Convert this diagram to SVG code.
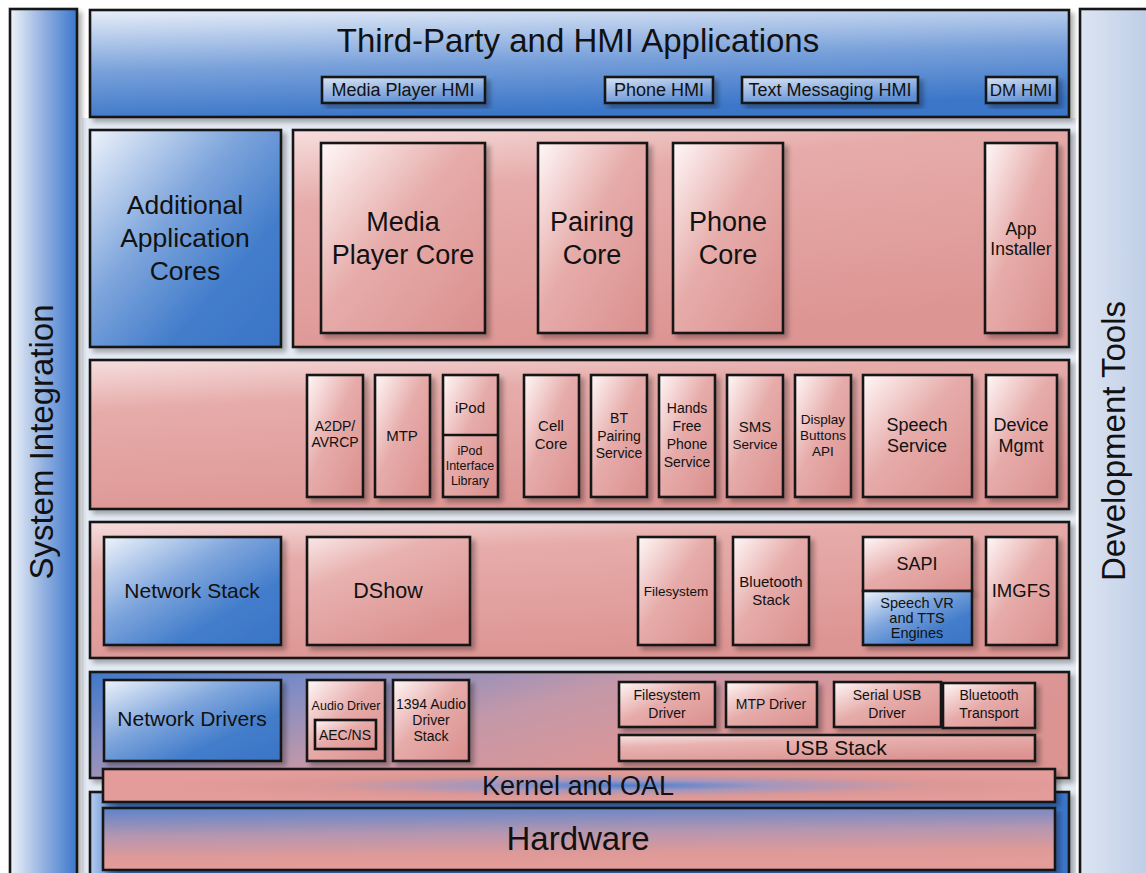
<svg xmlns="http://www.w3.org/2000/svg" width="1146" height="873" viewBox="0 0 1146 873">
  <defs>
    <filter id="shadow" x="-10%" y="-10%" width="130%" height="130%">
      <feGaussianBlur in="SourceAlpha" stdDeviation="2.5"/>
      <feOffset dx="4" dy="4" result="b"/>
      <feComponentTransfer><feFuncA type="linear" slope="0.3"/></feComponentTransfer>
      <feMerge><feMergeNode/><feMergeNode in="SourceGraphic"/></feMerge>
    </filter>
    <linearGradient id="pinkBox" x1="0" y1="0" x2="1" y2="1">
      <stop offset="0" stop-color="#fff8f8"/>
      <stop offset="0.45" stop-color="#e6acaa"/>
      <stop offset="1" stop-color="#da8f8d"/>
    </linearGradient>
    <linearGradient id="pinkWide" x1="0" y1="0" x2="0.6" y2="1">
      <stop offset="0" stop-color="#f9e6e6"/>
      <stop offset="0.35" stop-color="#e8b2b0"/>
      <stop offset="1" stop-color="#dc9391"/>
    </linearGradient>
    <linearGradient id="pinkPanel" x1="0" y1="0" x2="0.4" y2="1">
      <stop offset="0" stop-color="#f6dede"/>
      <stop offset="0.3" stop-color="#e6acaa"/>
      <stop offset="1" stop-color="#dd9593"/>
    </linearGradient>
    <linearGradient id="blueBox" x1="0" y1="0" x2="1" y2="1">
      <stop offset="0" stop-color="#eef3fb"/>
      <stop offset="0.4" stop-color="#7ea5dc"/>
      <stop offset="0.7" stop-color="#437dcb"/>
      <stop offset="1" stop-color="#3a74c6"/>
    </linearGradient>
    <linearGradient id="topBar" x1="0" y1="0" x2="0.25" y2="1">
      <stop offset="0" stop-color="#e9eff9"/>
      <stop offset="0.55" stop-color="#78a0da"/>
      <stop offset="1" stop-color="#3b76c8"/>
    </linearGradient>
    <linearGradient id="hmiBox" x1="0" y1="0" x2="0.5" y2="1">
      <stop offset="0" stop-color="#d9e4f5"/>
      <stop offset="1" stop-color="#5d8dd3"/>
    </linearGradient>
    <linearGradient id="sysBar" x1="0" y1="0" x2="1" y2="0">
      <stop offset="0" stop-color="#eef2f9"/>
      <stop offset="0.5" stop-color="#93b1e0"/>
      <stop offset="1" stop-color="#3b77cc"/>
    </linearGradient>
    <linearGradient id="devBar" x1="0" y1="0" x2="1" y2="0">
      <stop offset="0" stop-color="#dde5f2"/>
      <stop offset="1" stop-color="#bccce6"/>
    </linearGradient>
    <linearGradient id="driverPanel" x1="0" y1="0" x2="1" y2="0.4">
      <stop offset="0" stop-color="#3f78c8"/>
      <stop offset="0.22" stop-color="#7d8cc6"/>
      <stop offset="0.5" stop-color="#c498a8"/>
      <stop offset="0.75" stop-color="#da9698"/>
      <stop offset="1" stop-color="#dc9492"/>
    </linearGradient>
    <radialGradient id="kernelFill" cx="0.55" cy="0.5" r="0.5">
      <stop offset="0" stop-color="#4a7fd0"/>
      <stop offset="0.3" stop-color="#a496bd"/>
      <stop offset="0.65" stop-color="#dc9896"/>
      <stop offset="1" stop-color="#e49c9a"/>
    </radialGradient>
    <linearGradient id="hwOuter" x1="0" y1="0" x2="1" y2="0">
      <stop offset="0" stop-color="#b9cdee"/>
      <stop offset="0.03" stop-color="#3d78cb"/>
      <stop offset="1" stop-color="#3a76ca"/>
    </linearGradient>
    <linearGradient id="hwInner" x1="0" y1="0" x2="0.15" y2="1">
      <stop offset="0" stop-color="#5a84cc"/>
      <stop offset="0.45" stop-color="#b596b0"/>
      <stop offset="0.8" stop-color="#df9a98"/>
      <stop offset="1" stop-color="#e39c9a"/>
    </linearGradient>
    <style>
      .box { stroke: #141414; stroke-width: 2.6; filter: url(#shadow); }
      .pink { fill: url(#pinkBox); }
      .pinkw { fill: url(#pinkWide); }
      .panel { fill: url(#pinkPanel); }
      .blue { fill: url(#blueBox); }
      .hmi { fill: url(#hmiBox); }
      text { font-family: "Liberation Sans", Arial, sans-serif; fill: #111; text-anchor: middle; }
    </style>
  </defs>

  <rect width="1146" height="873" fill="#ffffff"/>
  <rect x="82" y="118" width="994" height="755" fill="#e5ebf4"/>

  <!-- side columns -->
  <g id="system-integration">
    <rect class="box" x="10" y="9" width="67" height="870" fill="url(#sysBar)"/>
    <text transform="translate(53,442) rotate(-90)" font-size="33">System Integration</text>
  </g>
  <g id="development-tools">
    <rect class="box" x="1080" y="9" width="72" height="870" fill="url(#devBar)"/>
    <text transform="translate(1125,441) rotate(-90)" font-size="33">Development Tools</text>
  </g>

  <!-- applications layer -->
  <g id="apps">
    <rect class="box" x="90" y="10" width="979" height="107" fill="url(#topBar)"/>
    <text x="578" y="52" font-size="33">Third-Party and HMI Applications</text>
  </g>
  <g id="media-player-hmi">
    <rect class="box hmi" x="322" y="77" width="163" height="26"/>
    <text x="403" y="96" font-size="18">Media Player HMI</text>
  </g>
  <g id="phone-hmi">
    <rect class="box hmi" x="605" y="77" width="108" height="26"/>
    <text x="659" y="96" font-size="18">Phone HMI</text>
  </g>
  <g id="text-messaging-hmi">
    <rect class="box hmi" x="742" y="77" width="176" height="26"/>
    <text x="830" y="96" font-size="18">Text Messaging HMI</text>
  </g>
  <g id="dm-hmi">
    <rect class="box hmi" x="986" y="77" width="71" height="26"/>
    <text x="1021" y="96" font-size="17">DM HMI</text>
  </g>

  <!-- application cores layer -->
  <g id="additional-cores">
    <rect class="box blue" x="90" y="130" width="191" height="217"/>
    <text x="185" y="214" font-size="26.5">Additional</text>
    <text x="185" y="247" font-size="26.5">Application</text>
    <text x="185" y="280" font-size="26.5">Cores</text>
  </g>
  <g id="cores-panel">
    <rect class="box panel" x="293" y="130" width="776" height="217"/>
  </g>
  <g id="media-player-core">
    <rect class="box pink" x="321" y="143" width="164" height="190"/>
    <text x="403" y="231" font-size="27">Media</text>
    <text x="403" y="264" font-size="27">Player Core</text>
  </g>
  <g id="pairing-core">
    <rect class="box pink" x="538" y="143" width="109" height="190"/>
    <text x="592" y="231" font-size="27">Pairing</text>
    <text x="592" y="264" font-size="27">Core</text>
  </g>
  <g id="phone-core">
    <rect class="box pink" x="673" y="143" width="110" height="190"/>
    <text x="728" y="231" font-size="27">Phone</text>
    <text x="728" y="264" font-size="27">Core</text>
  </g>
  <g id="app-installer">
    <rect class="box pink" x="985" y="143" width="72" height="190"/>
    <text x="1021" y="235" font-size="17.5">App</text>
    <text x="1021" y="255" font-size="17.5">Installer</text>
  </g>

  <!-- services layer -->
  <g id="services-panel">
    <rect class="box panel" x="90" y="360" width="979" height="149"/>
  </g>
  <g id="a2dp">
    <rect class="box pink" x="307" y="375" width="56" height="122"/>
    <text x="335" y="431" font-size="14">A2DP/</text>
    <text x="335" y="447" font-size="14">AVRCP</text>
  </g>
  <g id="mtp">
    <rect class="box pink" x="375" y="375" width="55" height="122"/>
    <text x="402" y="441" font-size="15">MTP</text>
  </g>
  <g id="ipod">
    <rect class="box pink" x="443" y="375" width="55" height="122"/>
    <line x1="443" y1="435" x2="498" y2="435" stroke="#141414" stroke-width="2.6"/>
    <text x="470" y="413" font-size="15">iPod</text>
    <text x="470" y="455" font-size="12.5">iPod</text>
    <text x="470" y="470" font-size="12.5">Interface</text>
    <text x="470" y="485" font-size="12.5">Library</text>
  </g>
  <g id="cell-core">
    <rect class="box pink" x="524" y="375" width="55" height="122"/>
    <text x="551" y="431" font-size="15">Cell</text>
    <text x="551" y="449" font-size="15">Core</text>
  </g>
  <g id="bt-pairing">
    <rect class="box pink" x="591" y="375" width="56" height="122"/>
    <text x="619" y="423" font-size="14">BT</text>
    <text x="619" y="441" font-size="14">Pairing</text>
    <text x="619" y="458" font-size="14">Service</text>
  </g>
  <g id="hands-free">
    <rect class="box pink" x="659" y="375" width="56" height="122"/>
    <text x="687" y="413" font-size="14">Hands</text>
    <text x="687" y="431" font-size="14">Free</text>
    <text x="687" y="449" font-size="14">Phone</text>
    <text x="687" y="467" font-size="14">Service</text>
  </g>
  <g id="sms-service">
    <rect class="box pink" x="727" y="375" width="56" height="122"/>
    <text x="755" y="432" font-size="15">SMS</text>
    <text x="755" y="449" font-size="13.5">Service</text>
  </g>
  <g id="display-buttons">
    <rect class="box pink" x="795" y="375" width="56" height="122"/>
    <text x="823" y="424" font-size="13.5">Display</text>
    <text x="823" y="440" font-size="13.5">Buttons</text>
    <text x="823" y="456" font-size="13.5">API</text>
  </g>
  <g id="speech-service">
    <rect class="box pink" x="863" y="375" width="109" height="122"/>
    <text x="917" y="431" font-size="18">Speech</text>
    <text x="917" y="452" font-size="18">Service</text>
  </g>
  <g id="device-mgmt">
    <rect class="box pink" x="986" y="375" width="71" height="122"/>
    <text x="1021" y="431" font-size="18">Device</text>
    <text x="1021" y="452" font-size="18">Mgmt</text>
  </g>

  <!-- middleware layer -->
  <g id="middleware-panel">
    <rect class="box panel" x="90" y="522" width="979" height="136"/>
  </g>
  <g id="network-stack">
    <rect class="box blue" x="104" y="537" width="177" height="108"/>
    <text x="192" y="598" font-size="21">Network Stack</text>
  </g>
  <g id="dshow">
    <rect class="box pinkw" x="307" y="537" width="163" height="108"/>
    <text x="388" y="598" font-size="21.5">DShow</text>
  </g>
  <g id="filesystem">
    <rect class="box pink" x="638" y="537" width="77" height="108"/>
    <text x="676" y="596" font-size="13.5">Filesystem</text>
  </g>
  <g id="bluetooth-stack">
    <rect class="box pink" x="733" y="537" width="76" height="108"/>
    <text x="771" y="587" font-size="15">Bluetooth</text>
    <text x="771" y="605" font-size="15">Stack</text>
  </g>
  <g id="sapi">
    <rect class="box pink" x="863" y="537" width="109" height="54"/>
    <text x="917" y="570" font-size="18">SAPI</text>
  </g>
  <g id="speech-engines">
    <rect class="box blue" x="863" y="591" width="109" height="54"/>
    <text x="917" y="608" font-size="14.5">Speech VR</text>
    <text x="917" y="623" font-size="14.5">and TTS</text>
    <text x="917" y="638" font-size="14.5">Engines</text>
  </g>
  <g id="imgfs">
    <rect class="box pink" x="986" y="537" width="71" height="108"/>
    <text x="1021" y="597" font-size="18.5">IMGFS</text>
  </g>

  <!-- drivers layer -->
  <g id="drivers-panel">
    <rect class="box" x="90" y="672" width="979" height="106" fill="url(#driverPanel)"/>
  </g>
  <g id="network-drivers">
    <rect class="box blue" x="104" y="680" width="177" height="81"/>
    <text x="192" y="726" font-size="21">Network Drivers</text>
  </g>
  <g id="audio-driver">
    <rect class="box pink" x="307" y="680" width="78" height="81"/>
    <text x="346" y="710" font-size="12.5">Audio Driver</text>
    <rect x="315" y="720" width="61" height="29" fill="url(#pinkBox)" stroke="#141414" stroke-width="2.6"/>
    <text x="345" y="740" font-size="14">AEC/NS</text>
  </g>
  <g id="audio-1394">
    <rect class="box pink" x="393" y="680" width="76" height="81"/>
    <text x="431" y="709" font-size="14">1394 Audio</text>
    <text x="431" y="725" font-size="14">Driver</text>
    <text x="431" y="741" font-size="14">Stack</text>
  </g>
  <g id="filesystem-driver">
    <rect class="box pink" x="619" y="682" width="96" height="45"/>
    <text x="667" y="700" font-size="14">Filesystem</text>
    <text x="667" y="718" font-size="14">Driver</text>
  </g>
  <g id="mtp-driver">
    <rect class="box pink" x="726" y="682" width="91" height="45"/>
    <text x="771" y="709" font-size="14">MTP Driver</text>
  </g>
  <g id="serial-usb-driver">
    <rect class="box pink" x="834" y="682" width="107" height="45"/>
    <text x="887" y="700" font-size="14">Serial USB</text>
    <text x="887" y="718" font-size="14">Driver</text>
  </g>
  <g id="bluetooth-transport">
    <rect class="box pink" x="943" y="683" width="92" height="45"/>
    <text x="989" y="700" font-size="14">Bluetooth</text>
    <text x="989" y="718" font-size="14">Transport</text>
  </g>
  <g id="usb-stack">
    <rect class="box pinkw" x="619" y="735" width="416" height="26"/>
    <text x="836" y="755" font-size="21">USB Stack</text>
  </g>

  <!-- hardware and kernel -->
  <g id="hardware-panel">
    <rect class="box" x="90" y="792" width="979" height="90" fill="url(#hwOuter)"/>
  </g>
  <g id="kernel">
    <rect class="box" x="103" y="769" width="952" height="33" fill="url(#kernelFill)"/>
    <text x="578" y="795" font-size="27">Kernel and OAL</text>
  </g>
  <g id="hardware">
    <rect class="box" x="103" y="808" width="952" height="62" fill="url(#hwInner)"/>
    <text x="578" y="850" font-size="33">Hardware</text>
  </g>
</svg>
